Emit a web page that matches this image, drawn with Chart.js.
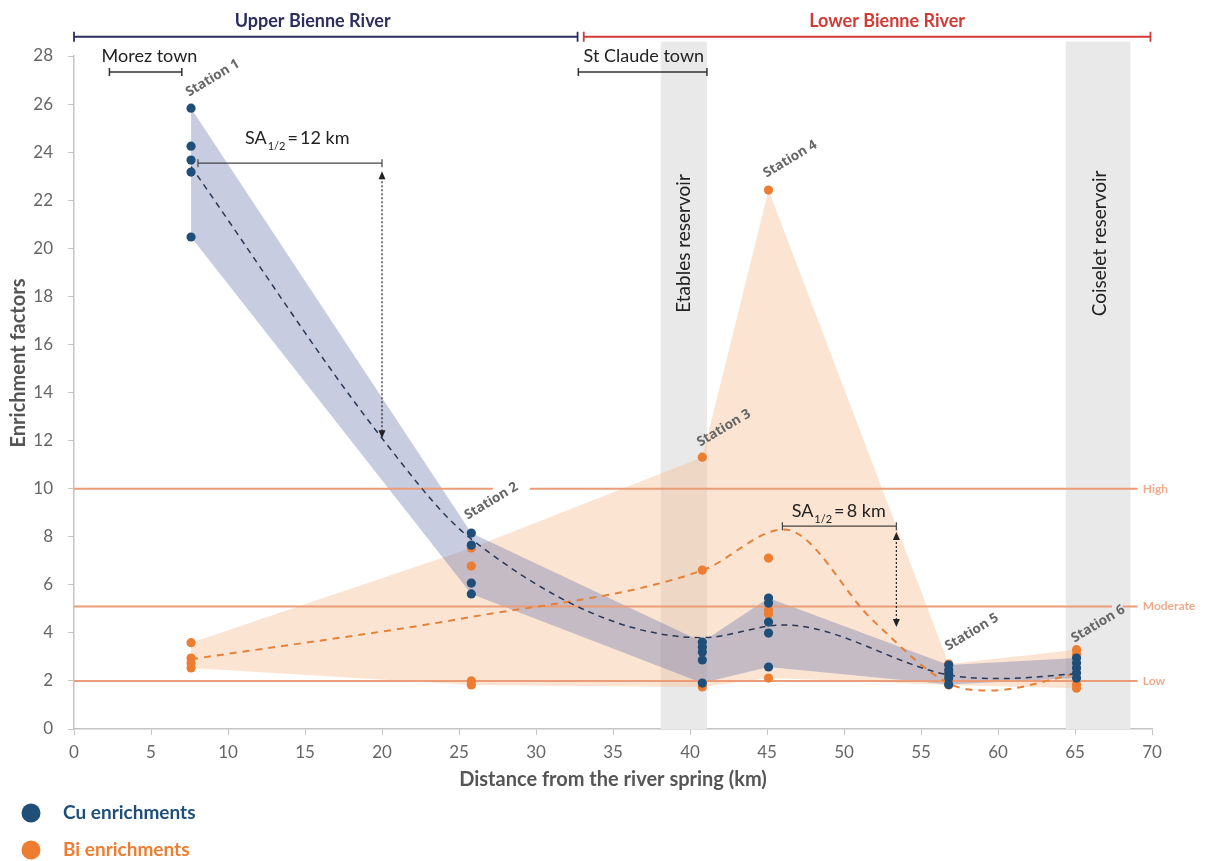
<!DOCTYPE html>
<html>
<head>
<meta charset="utf-8">
<script src="https://cdn.jsdelivr.net/npm/chart.js@4.4.1/dist/chart.umd.min.js"></script>
<style>
html, body { margin: 0; padding: 0; background: #fff; }
</style>
</head>
<body>
<canvas id="grafic" width="1208" height="861"></canvas>
<script>
// stations along the river (km from the spring)
const stations = ["Station 1", "Station 2", "Station 3", "Station 4", "Station 5", "Station 6"];
const stationKm = [7.6, 25.8, 40.8, 45.1, 56.8, 65.1];

// enrichment factors read per station
const cuValues = [
    [25.83, 24.25, 23.67, 23.17, 20.47],
    [8.15, 7.65, 6.07, 5.62],
    [3.62, 3.41, 3.2, 2.87, 1.91],
    [5.45, 5.24, 4.45, 3.99, 2.58],
    [2.66, 2.45, 2.29, 2.12, 1.85],
    [2.95, 2.75, 2.54, 2.33, 2.12]
];
const biValues = [
    [3.59, 2.95, 2.75, 2.54],
    [7.53, 6.78, 2.0, 1.83],
    [11.31, 6.61, 1.75],
    [22.42, 7.11, 4.95, 4.78, 2.12],
    [2.7, 2.3, 2.0, 1.83],
    [3.3, 3.1, 1.85, 1.7]
];

// dashed trend curves
const cuTrendKm = [7.6, 20, 25.8, 40.8, 46.1, 56.8, 60.2, 65.1];
const cuTrend = [23.4, 12.1, 7.9, 3.8, 4.33, 2.25, 2.1, 2.3];
const biTrendKm = [7.6, 25.8, 40.8, 46.1, 51.9, 56.8, 59.5, 65.1];
const biTrend = [2.9, 4.66, 6.6, 8.3, 4.5, 1.9, 1.6, 2.3];

// thresholds
const thresholdLabels = ["High", "Moderate", "Low"];
const thresholdValues = [10, 5.1, 2];

const reservoirs = [
    {label: "Etables reservoir", from: 38.1, to: 41.1},
    {label: "Coiselet reservoir", from: 64.4, to: 68.6}
];

const CU = "#1f4e79";
const BI = "#ed7d31";
const LINE = "#ea9d78";

function points(values) {
    let out = [];
    stationKm.forEach((km, i) => {
        values[i].forEach(v => out.push({x: km, y: v}));
    });
    return out;
}
function edge(values, fn) {
    return stationKm.map((km, i) => ({x: km, y: fn(...values[i])}));
}
function curve(kms, vals) {
    return kms.map((km, i) => ({x: km, y: vals[i]}));
}

// threshold lines, with small gaps where station labels sit
const highLine = [{x: 0, y: 10}, {x: 27.2, y: 10}, {x: 27.2, y: null}, {x: 29.6, y: 10}, {x: 69.06, y: 10}];
const modLine = [{x: 0, y: 5.1}, {x: 67.4, y: 5.1}, {x: 67.4, y: null}, {x: 68.1, y: 5.1}, {x: 69.06, y: 5.1}];
const lowLine = [{x: 0, y: 2}, {x: 69.06, y: 2}];

const datasets = [
    {label: "Cu", data: points(cuValues), showLine: false, pointRadius: 4.6, pointBackgroundColor: CU, pointBorderWidth: 0, order: 0},
    {label: "Bi", data: points(biValues), showLine: false, pointRadius: 4.6, pointBackgroundColor: BI, pointBorderWidth: 0, order: 1},
    {label: "Cu trend", data: curve(cuTrendKm, cuTrend), borderColor: "#2a3858", borderWidth: 1.5, borderDash: [6, 5], pointRadius: 0, cubicInterpolationMode: "monotone", order: 2},
    {label: "Bi trend", data: curve(biTrendKm, biTrend), borderColor: "#e5823a", borderWidth: 2, borderDash: [7, 6], pointRadius: 0, cubicInterpolationMode: "monotone", order: 3},
    {label: "High", data: highLine, borderColor: LINE, borderWidth: 2, pointRadius: 0, spanGaps: false, order: 4},
    {label: "Moderate", data: modLine, borderColor: LINE, borderWidth: 2, pointRadius: 0, spanGaps: false, order: 4},
    {label: "Low", data: lowLine, borderColor: LINE, borderWidth: 2, pointRadius: 0, order: 4},
    {label: "Cu max", data: edge(cuValues, Math.max), borderWidth: 0, pointRadius: 0, fill: false, order: 6},
    {label: "Cu min", data: edge(cuValues, Math.min), borderWidth: 0, pointRadius: 0, fill: 7, backgroundColor: "rgba(100,115,170,0.36)", order: 5},
    {label: "Bi max", data: edge(biValues, Math.max), borderWidth: 0, pointRadius: 0, fill: false, order: 8},
    {label: "Bi min", data: edge(biValues, Math.min), borderWidth: 0, pointRadius: 0, fill: 9, backgroundColor: "rgba(247,190,150,0.42)", order: 7}
];

function drawArrowHead(c, x, y, dir) {
    c.beginPath();
    c.moveTo(x, y);
    c.lineTo(x - 3.5, y - dir * 8);
    c.lineTo(x + 3.5, y - dir * 8);
    c.closePath();
    c.fill();
}

function drawSA(c, xs, ys, left, cy, value, barFrom, barTo, barY, arrowTop, arrowBottom) {
    let px = xs.getPixelForValue(left);
    const py = ys.getPixelForValue(cy);
    c.fillStyle = "#222";
    c.textBaseline = "middle";
    c.textAlign = "left";
    c.font = "18px Lato";
    c.fillText("SA", px, py);
    px += c.measureText("SA").width + 1;
    c.font = "11px Lato";
    c.fillText("1/2", px, py + 8);
    px += c.measureText("1/2").width + 2;
    c.font = "18px Lato";
    c.fillText("=\u2009" + value + " km", px, py);

    const x0 = xs.getPixelForValue(barFrom), x1 = xs.getPixelForValue(barTo);
    const by = ys.getPixelForValue(barY);
    c.strokeStyle = "#444";
    c.lineWidth = 1.2;
    c.beginPath();
    c.moveTo(x0, by); c.lineTo(x1, by);
    c.moveTo(x0, by - 4); c.lineTo(x0, by + 4);
    c.moveTo(x1, by - 4); c.lineTo(x1, by + 4);
    c.stroke();

    const ta = ys.getPixelForValue(arrowTop), ba = ys.getPixelForValue(arrowBottom);
    c.setLineDash([2, 2]);
    c.strokeStyle = "#222";
    c.beginPath();
    c.moveTo(x1, ta + 6); c.lineTo(x1, ba - 6);
    c.stroke();
    c.setLineDash([]);
    c.fillStyle = "#222";
    drawArrowHead(c, x1, ta, -1);
    drawArrowHead(c, x1, ba, 1);
}

function drawRange(c, xs, ys, from, to, yv, color, width, cap) {
    const x0 = xs.getPixelForValue(from), x1 = xs.getPixelForValue(to);
    const py = ys.getPixelForValue(yv);
    c.strokeStyle = color;
    c.lineWidth = width;
    c.beginPath();
    c.moveTo(x0, py); c.lineTo(x1, py);
    c.moveTo(x0, py - cap); c.lineTo(x0, py + cap);
    c.moveTo(x1, py - cap); c.lineTo(x1, py + cap);
    c.stroke();
}

const decor = {
    id: "decor",
    beforeDatasetsDraw(chart) {
        const c = chart.ctx;
        const xs = chart.scales.x, ys = chart.scales.y;
        c.save();
        c.fillStyle = "#e9e9e9";
        reservoirs.forEach(r => {
            const x0 = xs.getPixelForValue(r.from), x1 = xs.getPixelForValue(r.to);
            const top = ys.getPixelForValue(28.6), bottom = ys.getPixelForValue(0);
            c.fillRect(x0, top, x1 - x0, bottom - top);
        });
        c.restore();
    },
    afterDatasetsDraw(chart) {
        const c = chart.ctx;
        const xs = chart.scales.x, ys = chart.scales.y;
        c.save();

        // reservoir names
        const resLabelKm = [39.6, 66.6];
        c.font = "19px Lato";
        c.fillStyle = "#222";
        c.textAlign = "center";
        c.textBaseline = "middle";
        reservoirs.forEach((r, i) => {
            c.save();
            c.translate(xs.getPixelForValue(resLabelKm[i]), ys.getPixelForValue(20.2));
            c.rotate(-90 * Math.PI / 180);
            c.fillText(r.label, 0, 0);
            c.restore();
        });

        // station names
        const labelKm = [9.0, 27.1, 42.2, 46.5, 58.3, 66.5];
        const labelY = [27.08, 9.48, 12.52, 23.71, 4.03, 4.37];
        c.font = "bold 13.5px 'Open Sans'";
        c.fillStyle = "#666";
        stations.forEach((s, i) => {
            c.save();
            c.translate(xs.getPixelForValue(labelKm[i]), ys.getPixelForValue(labelY[i]));
            c.rotate(-31 * Math.PI / 180);
            c.fillText(s, 0, 0);
            c.restore();
        });

        // threshold names
        c.font = "bold 12px Lato";
        c.fillStyle = "#eeab8c";
        c.textAlign = "left";
        thresholdLabels.forEach((t, i) => {
            c.fillText(t, xs.getPixelForValue(69.4), ys.getPixelForValue(thresholdValues[i]));
        });

        // half-distance annotations
        drawSA(c, xs, ys, 11.1, 24.58, 12, 8.05, 20.0, 23.54, 23.2, 12.1);
        drawSA(c, xs, ys, 46.6, 9.07, 8, 46.0, 53.4, 8.44, 8.2, 4.24);
        c.restore();
    },
    afterDraw(chart) {
        const c = chart.ctx;
        const xs = chart.scales.x, ys = chart.scales.y;
        c.save();
        c.textAlign = "center";
        c.textBaseline = "middle";

        // river sections
        drawRange(c, xs, ys, 0, 32.7, 28.8, "#2c2e5e", 1.8, 5);
        drawRange(c, xs, ys, 33.1, 69.9, 28.8, "#d23b35", 1.8, 5);
        c.font = "bold 18px Lato";
        c.fillStyle = "#2c2e5e";
        c.fillText("Upper Bienne River", xs.getPixelForValue(15.5), ys.getPixelForValue(29.45));
        c.fillStyle = "#d23b35";
        c.fillText("Lower Bienne River", xs.getPixelForValue(52.8), ys.getPixelForValue(29.45));

        // towns
        drawRange(c, xs, ys, 2.3, 7.0, 27.33, "#333", 1.5, 4);
        drawRange(c, xs, ys, 32.75, 41.1, 27.33, "#333", 1.5, 4);
        c.font = "18px Lato";
        c.fillStyle = "#222";
        c.fillText("Morez town", xs.getPixelForValue(4.9), ys.getPixelForValue(28.0));
        c.fillText("St Claude town", xs.getPixelForValue(37.0), ys.getPixelForValue(28.0));

        // y title
        c.save();
        c.translate(19, 363);
        c.rotate(-90 * Math.PI / 180);
        c.font = "bold 20px Lato";
        c.fillStyle = "#555";
        c.fillText("Enrichment factors", 0, 0);
        c.restore();

        // legend
        const legend = [["Cu enrichments", CU, 813], ["Bi enrichments", BI, 850]];
        c.textAlign = "left";
        c.font = "bold 19px Lato";
        legend.forEach(l => {
            c.fillStyle = l[1];
            c.beginPath();
            c.arc(31, l[2], 9.5, 0, Math.PI * 2);
            c.fill();
            c.fillText(l[0], 63, l[2]);
        });
        c.restore();
    }
};

const config = {
    type: "line",
    data: {datasets: datasets},
    options: {
        responsive: false,
        animation: false,
        layout: {padding: {left: 0, right: 56, top: 56, bottom: 69}},
        plugins: {legend: {display: false}, tooltip: {enabled: false}},
        scales: {
            x: {
                type: "linear", min: 0, max: 70,
                ticks: {stepSize: 5, color: "#666", font: {family: "Lato", size: 17}, padding: 7},
                grid: {drawOnChartArea: false, tickLength: 6, tickColor: "#c4c4c4"},
                border: {color: "#c4c4c4", width: 1.5},
                title: {display: true, text: "Distance from the river spring (km)", color: "#555", font: {family: "Lato", size: 20, weight: "bold"}, padding: 0},
                afterFit: s => { s.height = 63; }
            },
            y: {
                min: 0, max: 28,
                ticks: {stepSize: 2, color: "#666", font: {family: "Lato", size: 17}, padding: 15},
                grid: {drawOnChartArea: false, tickLength: 6, tickColor: "#c4c4c4"},
                border: {color: "#c4c4c4", width: 1.5},
                afterFit: s => { s.width = 74; }
            }
        }
    },
    plugins: [decor]
};

const grafica = new Chart(document.getElementById("grafic"), config);
</script>
</body>
</html>
